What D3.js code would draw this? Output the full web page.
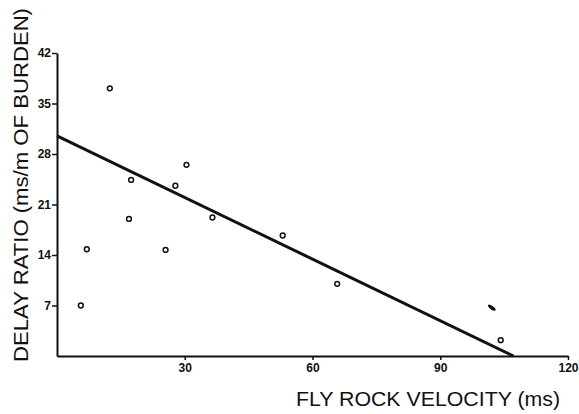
<!DOCTYPE html>
<meta charset="utf-8" />
<script src="https://d3js.org/d3.v7.min.js"></script>
<body style="margin:0;background:#fff">
  <div id="chart"></div>
  <script>
    // fly rock velocity (ms) vs delay ratio (ms/m of burden)
    var velocity = [12.4, 7.0, 16.9, 17.4, 25.5, 27.8, 30.4, 36.5, 53.0, 5.6, 65.8, 104.2];
    var delayRatio = [37.1, 14.8, 19.0, 24.4, 14.7, 23.6, 26.5, 19.2, 16.7, 7.0, 10.0, 2.2];
    // one point is smeared into a blot on the scan
    var blotVelocity = [102.1];
    var blotDelay = [6.7];
    // fitted line end points
    var fitVelocity = [0, 107.2];
    var fitDelay = [30.5, 0];
    var xTicks = [30, 60, 90, 120];
    var yTicks = [7, 14, 21, 28, 35, 42];

    var W = 579, H = 414;
    var svg = d3.select("#chart").append("svg")
      .attr("width", W).attr("height", H)
      .style("font-family", "'Liberation Sans', Arial, sans-serif");

    var x = d3.scaleLinear().domain([0, 120]).range([57, 568]);
    var y = d3.scaleLinear().domain([0, 42]).range([356, 53]);

    // x axis
    var gx = svg.append("g")
      .attr("transform", "translate(0," + y(0) + ")")
      .call(d3.axisBottom(x).tickValues(xTicks).tickSize(4).tickSizeOuter(0).tickPadding(3));
    gx.selectAll("text").style("font-size", "12px").style("font-weight", "bold").attr("fill", "#111");

    // y axis
    var gy = svg.append("g")
      .attr("transform", "translate(" + x(0) + ",0)")
      .call(d3.axisLeft(y).tickValues(yTicks).tickSize(5).tickSizeOuter(0).tickPadding(1));
    gy.selectAll("text").style("font-size", "12px").style("font-weight", "bold").attr("fill", "#111");

    svg.selectAll(".domain").attr("stroke", "#111").attr("stroke-width", 2);
    svg.selectAll(".tick line").attr("stroke", "#111").attr("stroke-width", 1.5);

    // regression line
    var fit = fitVelocity.map(function (v, i) { return [v, fitDelay[i]]; });
    svg.append("path")
      .datum(fit)
      .attr("fill", "none")
      .attr("stroke", "#111")
      .attr("stroke-width", 3)
      .attr("d", d3.line().x(function (d) { return x(d[0]); }).y(function (d) { return y(d[1]); }));

    // points
    var pts = velocity.map(function (v, i) { return { v: v, d: delayRatio[i] }; });
    svg.selectAll("circle.pt")
      .data(pts)
      .enter()
      .append("circle")
      .attr("class", "pt")
      .attr("cx", function (d) { return x(d.v); })
      .attr("cy", function (d) { return y(d.d); })
      .attr("r", 2.4)
      .attr("fill", "#fff")
      .attr("stroke", "#111")
      .attr("stroke-width", 1.5);

    var blots = blotVelocity.map(function (v, i) { return { v: v, d: blotDelay[i] }; });
    svg.selectAll("ellipse.blot")
      .data(blots)
      .enter()
      .append("ellipse")
      .attr("class", "blot")
      .attr("transform", function (d) {
        return "translate(" + x(d.v) + "," + y(d.d) + ") rotate(35)";
      })
      .attr("rx", 4.5)
      .attr("ry", 1.8)
      .attr("fill", "#111");

    // axis titles
    svg.append("text")
      .attr("x", 296)
      .attr("y", 406)
      .attr("textLength", 264)
      .attr("lengthAdjust", "spacingAndGlyphs")
      .style("font-size", "21px")
      .attr("fill", "#111")
      .text("FLY ROCK VELOCITY (ms)");

    svg.append("text")
      .attr("transform", "translate(28,362) rotate(-90)")
      .attr("textLength", 354)
      .attr("lengthAdjust", "spacingAndGlyphs")
      .style("font-size", "21px")
      .attr("fill", "#111")
      .text("DELAY RATIO (ms/m OF BURDEN)");
  </script>
</body>
